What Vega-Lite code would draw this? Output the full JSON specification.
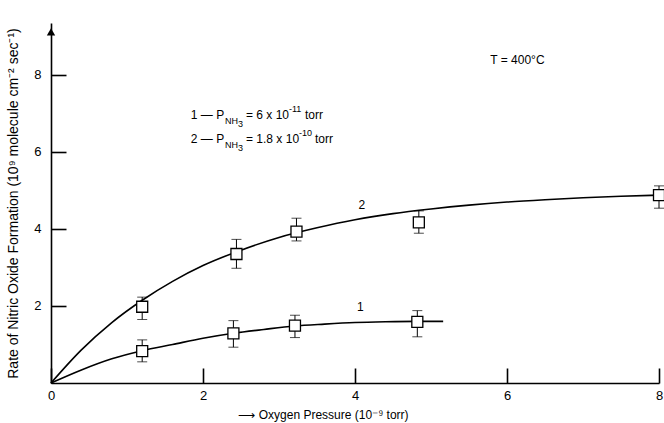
{
  "$schema": "https://vega.github.io/schema/vega-lite/v6.json",
  "autosize": {"type": "none"},
  "padding": {"left": 51, "top": 23, "right": 5, "bottom": 40},
  "width": 608,
  "height": 360,
  "background": "white",
  "config": {
    "view": {"stroke": null},
    "font": "Liberation Sans",
    "axis": {
      "domainColor": "black", "domainWidth": 1.6,
      "tickColor": "black", "tickWidth": 1.6, "tickSize": -15,
      "labelColor": "black", "labelFontSize": 13, "labelFont": "Liberation Sans", "labelFlush": false,
      "titleColor": "black", "titleFont": "Liberation Sans", "titleFontWeight": "normal",
      "grid": false
    }
  },
  "datasets": {
    "pts": [
      {"series": "2", "x": 1.2, "y": 1.98, "lo": 1.65, "hi": 2.23},
      {"series": "2", "x": 2.44, "y": 3.35, "lo": 2.98, "hi": 3.73},
      {"series": "2", "x": 3.23, "y": 3.93, "lo": 3.69, "hi": 4.28},
      {"series": "2", "x": 4.84, "y": 4.17, "lo": 3.89, "hi": 4.47},
      {"series": "2", "x": 8.0, "y": 4.88, "lo": 4.54, "hi": 5.12},
      {"series": "1", "x": 1.2, "y": 0.83, "lo": 0.55, "hi": 1.12},
      {"series": "1", "x": 2.4, "y": 1.29, "lo": 0.93, "hi": 1.62},
      {"series": "1", "x": 3.21, "y": 1.49, "lo": 1.18, "hi": 1.76},
      {"series": "1", "x": 4.82, "y": 1.59, "lo": 1.2, "hi": 1.88}
    ],
    "curves": [
      {"series": "2", "x": 0, "y": 0},
      {"series": "2", "x": 0.4, "y": 0.86},
      {"series": "2", "x": 0.8, "y": 1.57},
      {"series": "2", "x": 1.2, "y": 2.15},
      {"series": "2", "x": 1.6, "y": 2.64},
      {"series": "2", "x": 2.0, "y": 3.05},
      {"series": "2", "x": 2.5, "y": 3.45},
      {"series": "2", "x": 3.0, "y": 3.78},
      {"series": "2", "x": 3.5, "y": 4.03},
      {"series": "2", "x": 4.0, "y": 4.24},
      {"series": "2", "x": 4.5, "y": 4.4},
      {"series": "2", "x": 5.0, "y": 4.52},
      {"series": "2", "x": 5.5, "y": 4.62},
      {"series": "2", "x": 6.0, "y": 4.7},
      {"series": "2", "x": 6.5, "y": 4.76},
      {"series": "2", "x": 7.0, "y": 4.81},
      {"series": "2", "x": 7.5, "y": 4.85},
      {"series": "2", "x": 8.0, "y": 4.88},
      {"series": "1", "x": 0, "y": 0},
      {"series": "1", "x": 0.4, "y": 0.34},
      {"series": "1", "x": 0.8, "y": 0.63},
      {"series": "1", "x": 1.2, "y": 0.84},
      {"series": "1", "x": 1.6, "y": 1.0},
      {"series": "1", "x": 2.0, "y": 1.16},
      {"series": "1", "x": 2.4, "y": 1.29},
      {"series": "1", "x": 2.8, "y": 1.39},
      {"series": "1", "x": 3.2, "y": 1.48},
      {"series": "1", "x": 3.6, "y": 1.53},
      {"series": "1", "x": 4.0, "y": 1.57},
      {"series": "1", "x": 4.4, "y": 1.59},
      {"series": "1", "x": 4.8, "y": 1.6},
      {"series": "1", "x": 5.16, "y": 1.6}
    ],
    "arrow": [{"x": 0, "y": 9.12}],
    "bigtext": [
      {"t": "1 — P", "x": 1.84, "y": 6.96},
      {"t": "= 6 x 10", "x": 2.566, "y": 6.96},
      {"t": "torr", "x": 3.342, "y": 6.96},
      {"t": "2 — P", "x": 1.84, "y": 6.34},
      {"t": "= 1.8 x 10", "x": 2.566, "y": 6.34},
      {"t": "torr", "x": 3.474, "y": 6.34},
      {"t": "T = 400°C", "x": 5.78, "y": 8.39},
      {"t": "2", "x": 4.045, "y": 4.62},
      {"t": "1", "x": 4.025, "y": 1.98}
    ],
    "smalltext": [
      {"t": "NH", "x": 2.29, "y": 6.8},
      {"t": "3", "x": 2.46, "y": 6.72},
      {"t": "-11", "x": 3.13, "y": 7.12},
      {"t": "NH", "x": 2.29, "y": 6.18},
      {"t": "3", "x": 2.46, "y": 6.1},
      {"t": "-10", "x": 3.263, "y": 6.5}
    ]
  },
  "encoding": {
    "x": {
      "field": "x", "type": "quantitative",
      "scale": {"domain": [0, 8], "nice": false, "zero": false},
      "axis": {
        "values": [0, 2, 4, 6, 8],
        "labelPadding": 21,
        "title": "⟶ Oxygen Pressure (10⁻⁹ torr)",
        "titleFontSize": 12,
        "titleX": 272, "titleY": 31, "titleAlign": "center", "titleBaseline": "middle", "titleAnchor": null
      }
    },
    "y": {
      "field": "y", "type": "quantitative",
      "scale": {"domain": [0, 9.35], "nice": false, "zero": false},
      "axis": {
        "values": [2, 4, 6, 8],
        "labelPadding": 25,
        "title": "Rate of Nitric Oxide Formation (10⁹ molecule cm⁻² sec⁻¹)",
        "titleFontSize": 14,
        "titleX": -38, "titleY": 180, "titleAngle": -90, "titleAlign": "center", "titleBaseline": "middle", "titleAnchor": null
      }
    }
  },
  "layer": [
    {
      "data": {"name": "curves"},
      "mark": {"type": "line", "interpolate": "monotone", "color": "black", "strokeWidth": 1.6},
      "encoding": {"detail": {"field": "series"}}
    },
    {
      "data": {"name": "pts"},
      "mark": {"type": "rule", "color": "black", "strokeWidth": 1},
      "encoding": {"y": {"field": "lo", "type": "quantitative"}, "y2": {"field": "hi"}}
    },
    {
      "data": {"name": "pts"},
      "mark": {"type": "tick", "orient": "horizontal", "color": "black", "size": 10, "thickness": 1},
      "encoding": {"y": {"field": "lo", "type": "quantitative"}}
    },
    {
      "data": {"name": "pts"},
      "mark": {"type": "tick", "orient": "horizontal", "color": "black", "size": 10, "thickness": 1},
      "encoding": {"y": {"field": "hi", "type": "quantitative"}}
    },
    {
      "data": {"name": "pts"},
      "mark": {"type": "point", "shape": "square", "filled": true, "fill": "white", "stroke": "black", "strokeWidth": 1.3, "size": 121, "opacity": 1},
      "encoding": {}
    },
    {
      "data": {"name": "arrow"},
      "mark": {"type": "point", "shape": "triangle-up", "filled": true, "color": "black", "size": 70, "opacity": 1},
      "encoding": {}
    },
    {
      "data": {"name": "bigtext"},
      "mark": {"type": "text", "align": "left", "baseline": "middle", "fontSize": 12, "color": "black", "font": "Liberation Sans"},
      "encoding": {"text": {"field": "t"}}
    },
    {
      "data": {"name": "smalltext"},
      "mark": {"type": "text", "align": "left", "baseline": "middle", "fontSize": 9, "color": "black", "font": "Liberation Sans"},
      "encoding": {"text": {"field": "t"}}
    }
  ]
}
